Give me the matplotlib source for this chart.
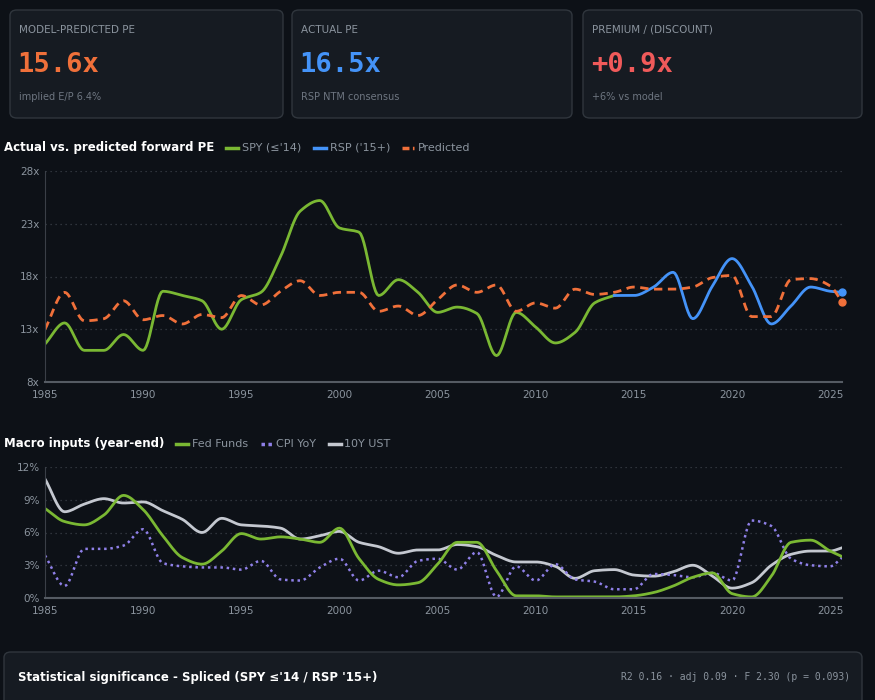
import numpy as np
import matplotlib.pyplot as plt
from matplotlib.patches import FancyBboxPatch
from matplotlib.lines import Line2D

# ---- data ----
years = np.append(np.arange(1985, 2026), 2025.6)

spy_years = np.arange(1985, 2015)
spy_pe = [11.6, 13.6, 11.0, 11.0, 12.5, 11.0, 16.6, 16.2, 15.7, 13.0,
          15.8, 16.5, 19.9, 24.2, 25.2, 22.6, 22.2, 16.2, 17.7, 16.5,
          14.6, 15.1, 14.5, 10.5, 14.6, 13.2, 11.7, 12.7, 15.5, 16.2]
rsp_years = np.append(np.arange(2014, 2026), 2025.6)
rsp_pe = [16.2, 16.2, 17.0, 18.4, 14.0, 17.1, 19.7, 17.1, 13.5, 15.2, 17.0, 16.6, 16.5]
pred_pe = [13.0, 16.5, 13.8, 14.0, 15.7, 13.9, 14.3, 13.5, 14.4, 14.1,
           16.2, 15.3, 16.6, 17.6, 16.2, 16.5, 16.5, 14.7, 15.2, 14.3,
           15.8, 17.2, 16.5, 17.2, 14.7, 15.5, 15.0, 16.8, 16.3, 16.5,
           17.0, 16.8, 16.8, 17.0, 17.9, 18.1, 14.2, 14.2, 17.7, 17.8, 17.1, 15.6]

fed_funds = [8.2, 7.0, 6.7, 7.6, 9.4, 8.1, 5.7, 3.7, 3.1, 4.3,
             5.9, 5.4, 5.6, 5.4, 5.1, 6.4, 3.6, 1.7, 1.2, 1.4,
             3.1, 5.1, 5.1, 2.5, 0.2, 0.2, 0.1, 0.1, 0.1, 0.1,
             0.2, 0.5, 1.1, 1.9, 2.3, 0.4, 0.1, 2.0, 5.1, 5.3, 4.3, 3.8]
cpi_yoy = [3.9, 1.1, 4.5, 4.5, 4.8, 6.3, 3.2, 2.9, 2.8, 2.8,
           2.6, 3.4, 1.7, 1.6, 2.8, 3.6, 1.6, 2.5, 1.9, 3.4,
           3.6, 2.6, 4.2, 0.1, 2.9, 1.6, 3.1, 1.7, 1.5, 0.8,
           0.8, 2.2, 2.1, 1.9, 2.3, 1.6, 7.1, 6.6, 3.6, 3.0, 2.9, 3.7]
ust_10y = [10.9, 7.9, 8.6, 9.1, 8.7, 8.8, 8.0, 7.2, 6.0, 7.3,
           6.7, 6.6, 6.4, 5.4, 5.7, 6.1, 5.1, 4.7, 4.1, 4.4,
           4.4, 4.9, 4.7, 3.9, 3.3, 3.3, 2.9, 1.8, 2.5, 2.6,
           2.1, 2.0, 2.4, 3.0, 2.0, 0.9, 1.4, 3.0, 4.0, 4.3, 4.3, 4.6]

BG = "#0d1117"
CARD = "#161b22"
EDGE = "#30363d"
GREEN = "#7ab833"
BLUE = "#4493f8"
ORANGE = "#f0703a"
RED = "#f05a5a"
PURPLE = "#8f80e8"
GRAY = "#c4c8d0"
MUTED = "#8b949e"


def smooth(x, y, n=12):
    # monotone cubic (Fritsch-Carlson) for a curved line through the points
    x = np.asarray(x, float); y = np.asarray(y, float)
    h = np.diff(x); d = np.diff(y) / h
    m = np.zeros_like(y)
    m[0], m[-1] = d[0], d[-1]
    for i in range(1, len(y) - 1):
        if d[i - 1] * d[i] > 0:
            w1 = 2 * h[i] + h[i - 1]; w2 = h[i] + 2 * h[i - 1]
            m[i] = (w1 + w2) / (w1 / d[i - 1] + w2 / d[i])
    xs, ys = [], []
    for i in range(len(h)):
        t = np.linspace(0, 1, n, endpoint=False)
        h00 = 2*t**3 - 3*t**2 + 1; h10 = t**3 - 2*t**2 + t
        h01 = -2*t**3 + 3*t**2; h11 = t**3 - t**2
        xs.append(x[i] + t * h[i])
        ys.append(h00*y[i] + h10*h[i]*m[i] + h01*y[i+1] + h11*h[i]*m[i+1])
    return np.append(np.concatenate(xs), x[-1]), np.append(np.concatenate(ys), y[-1])


W, H = 875, 700
fig = plt.figure(figsize=(W / 100, H / 100), dpi=100, facecolor=BG)


def px(x, y):
    return x / W, 1 - y / H


def card(x0, y0, x1, y1):
    fig.patches.append(FancyBboxPatch((x0 / W, 1 - y1 / H), (x1 - x0) / W, (y1 - y0) / H,
                                      boxstyle="round,pad=0,rounding_size=0.008",
                                      transform=fig.transFigure, facecolor=CARD,
                                      edgecolor=EDGE, linewidth=1))


cards = [(10, 283, "MODEL-PREDICTED PE", "15.6x", ORANGE, "implied E/P 6.4%"),
         (292, 572, "ACTUAL PE", "16.5x", BLUE, "RSP NTM consensus"),
         (583, 862, "PREMIUM / (DISCOUNT)", "+0.9x", RED, "+6% vs model")]
for x0, x1, lab, val, col, sub in cards:
    card(x0, 10, x1, 118)
    fig.text(*px(x0 + 9, 30), lab, color=MUTED, fontsize=7.5, va="center")
    fig.text(*px(x0 + 8, 65), val, color=col, fontsize=19.5, fontweight="bold",
             family="DejaVu Sans Mono", va="center")
    fig.text(*px(x0 + 9, 97), sub, color="#6e7681", fontsize=7, va="center")


def style(ax, ylim, yticks, ylabels):
    ax.set_facecolor(BG)
    ax.set_xlim(1985, 2025.6)
    ax.set_ylim(*ylim)
    ax.set_xticks(range(1985, 2026, 5))
    ax.set_yticks(yticks)
    ax.set_yticklabels(ylabels)
    ax.tick_params(colors=MUTED, labelsize=7.5, length=0)
    ax.tick_params(axis="x", pad=6)
    ax.tick_params(axis="y", pad=4)
    for s in ["top", "right"]:
        ax.spines[s].set_visible(False)
    ax.spines["left"].set_color("#3a3f47")
    ax.spines["bottom"].set_color("#555b63")
    ax.spines["bottom"].set_linewidth(1.5)
    ax.grid(axis="y", color="#3a3f47", linestyle=(0, (1, 3)), linewidth=0.9)
    ax.set_axisbelow(True)


def legend_row(y, title, items, x_title=4):
    t = fig.text(*px(x_title, y), title, color="white", fontsize=8.5, fontweight="bold", va="center")
    fig.canvas.draw()
    bb = t.get_window_extent()
    x = bb.x1 + 12
    for lab, col, ls in items:
        fig.lines.append(Line2D([x / W, (x + 12) / W], [1 - y / H] * 2, color=col, lw=2.5,
                                linestyle=ls, transform=fig.transFigure))
        tt = fig.text((x + 16) / W, 1 - y / H, lab, color=MUTED, fontsize=8, va="center")
        fig.canvas.draw()
        x = tt.get_window_extent().x1 + 12


# ---- PE chart ----
ax1 = fig.add_axes([45 / W, 1 - 382 / H, (842 - 45) / W, (382 - 171) / H])
style(ax1, (8, 28), [8, 13, 18, 23, 28], ["8x", "13x", "18x", "23x", "28x"])
ax1.plot(*smooth(spy_years, spy_pe), color=GREEN, lw=2)
ax1.plot(*smooth(rsp_years, rsp_pe), color=BLUE, lw=2)
ax1.plot(*smooth(years, pred_pe), color=ORANGE, lw=2, linestyle=(0, (3, 2)))
ax1.plot(rsp_years[-1], rsp_pe[-1], "o", color=BLUE, ms=5, clip_on=False)
ax1.plot(years[-1], pred_pe[-1], "o", color=ORANGE, ms=5, clip_on=False)
legend_row(148, "Actual vs. predicted forward PE",
           [("SPY (≤'14)", GREEN, "-"), ("RSP ('15+)", BLUE, "-"), ("Predicted", ORANGE, (0, (2, 1)))])

# ---- Macro chart ----
ax2 = fig.add_axes([45 / W, 1 - 598 / H, (842 - 45) / W, (598 - 467) / H])
style(ax2, (0, 12), [0, 3, 6, 9, 12], ["0%", "3%", "6%", "9%", "12%"])
ax2.plot(*smooth(years, ust_10y), color=GRAY, lw=2)
ax2.plot(*smooth(years, cpi_yoy), color=PURPLE, lw=1.8, linestyle=(0, (1, 1.5)))
ax2.plot(*smooth(years, fed_funds), color=GREEN, lw=2)
legend_row(444, "Macro inputs (year-end)",
           [("Fed Funds", GREEN, "-"), ("CPI YoY", PURPLE, (0, (1, 1))), ("10Y UST", GRAY, "-")])

# ---- stats card ----
card(4, 652, 862, 712)
fig.text(*px(18, 677), "Statistical significance - Spliced (SPY ≤'14 / RSP '15+)",
         color="white", fontsize=8.5, fontweight="bold", va="center")
fig.text(*px(850, 677), "R2 0.16 · adj 0.09 · F 2.30 (p = 0.093)", color=MUTED,
         fontsize=7, family="DejaVu Sans Mono", va="center", ha="right")

fig.savefig("out.png", dpi=100, facecolor=BG)
